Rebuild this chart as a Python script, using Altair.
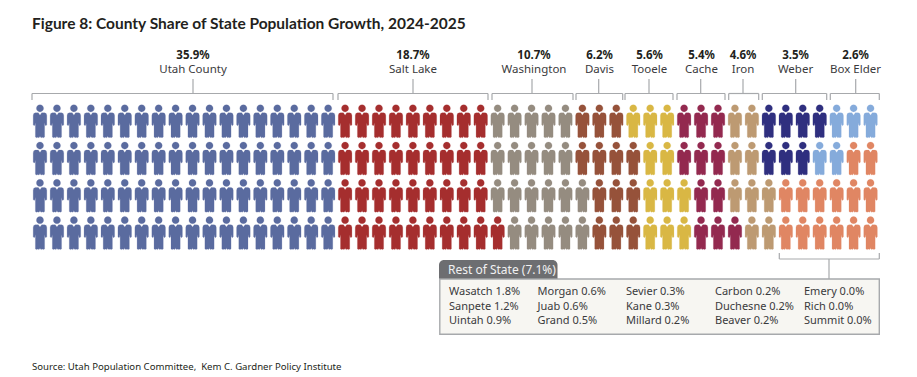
import altair as alt
import pandas as pd

# Column ranges (inclusive) held by each county in each of the four rows of 50 figures
counties = ["Utah County", "Salt Lake", "Washington", "Davis", "Tooele", "Cache", "Iron", "Weber", "Box Elder", "Rest of State"]
colors = ["#5a6b9f", "#a52e2e", "#958c80", "#96523a", "#d9b744", "#93294f", "#bd9a72", "#2f2f7f", "#85abdb", "#e08663"]
row0_counts = [18, 9, 5, 3, 3, 3, 2, 4, 3, 0]
row1_counts = [18, 9, 5, 4, 2, 3, 2, 3, 2, 2]
row2_counts = [18, 9, 6, 3, 3, 2, 3, 0, 0, 6]
row3_counts = [18, 10, 5, 3, 3, 3, 2, 0, 0, 6]
shares = ["35.9%", "18.7%", "10.7%", "6.2%", "5.6%", "5.4%", "4.6%", "3.5%", "2.6%"]
rest_columns = [
    ["Wasatch 1.8%", "Sanpete 1.2%", "Uintah 0.9%"],
    ["Morgan 0.6%", "Juab 0.6%", "Grand 0.5%"],
    ["Sevier 0.3%", "Kane 0.3%", "Millard 0.2%"],
    ["Carbon 0.2%", "Duchesne 0.2%", "Beaver 0.2%"],
    ["Emery 0.0%", "Rich 0.0%", "Summit 0.0%"],
]

FONT = "Noto Sans"
INK = "#231f20"
RULE = "#a7a9ac"
W, H = 901, 366
CX0, CDX = 40.0, 16.95
RY0, RDY = 121.2, 37.3


def X(px):
    return (px - CX0) / CDX


def Y(py):
    return (py - RY0) / RDY


xscale = alt.Scale(domain=[X(8), X(8 + W)], range=[0, W], nice=False, zero=False)
yscale = alt.Scale(domain=[Y(8), Y(8 + H)], range=[0, H], nice=False, zero=False)
xe = alt.X("x:Q", scale=xscale, axis=None)
ye = alt.Y("y:Q", scale=yscale, axis=None)

people = []
for r, counts in enumerate([row0_counts, row1_counts, row2_counts, row3_counts]):
    c = 0
    for name, n in zip(counties, counts):
        for _ in range(n):
            people.append({"x": c, "y": r, "county": name})
            c += 1
people = pd.DataFrame(people)

s = 16.5


def u(a, b):
    return f"{a / s:.4f},{b / s:.4f}"


PERSON = (
    f"M{u(-3.6, -12.9)}A{3.6 / s:.4f},{3.6 / s:.4f} 0 1 1 {u(3.6, -12.9)}"
    f"A{3.6 / s:.4f},{3.6 / s:.4f} 0 1 1 {u(-3.6, -12.9)}Z"
    f"M{u(-1.7, -8.4)}L{u(0, -6.0)}L{u(1.7, -8.4)}L{u(4.6, -8.4)}"
    f"Q{u(6.8, -8.2)} {u(6.8, -5.6)}L{u(6.8, 3.6)}L{u(5.9, 4.6)}L{u(5.1, 3.9)}L{u(4.9, 1.5)}L{u(4.6, 3.9)}"
    f"L{u(4.6, 15.8)}L{u(3.4, 16.5)}L{u(2.2, 16.0)}L{u(1.2, 16.5)}L{u(0.3, 15.8)}L{u(0, 14.5)}"
    f"L{u(-0.3, 15.8)}L{u(-1.2, 16.5)}L{u(-2.2, 16.0)}L{u(-3.4, 16.5)}L{u(-4.6, 15.8)}"
    f"L{u(-4.6, 3.9)}L{u(-4.9, 1.5)}L{u(-5.1, 3.9)}L{u(-5.9, 4.6)}L{u(-6.8, 3.6)}L{u(-6.8, -5.6)}"
    f"Q{u(-6.8, -8.2)} {u(-4.6, -8.4)}Z"
)

cscale = alt.Scale(domain=counties, range=colors)
figures = alt.Chart(people).mark_point(
    filled=True, shape=PERSON, size=(2 * s) ** 2, opacity=1, strokeWidth=0.8, strokeOpacity=0.25
).encode(
    x=xe, y=ye,
    color=alt.Color("county:N", scale=cscale, legend=None),
    stroke=alt.Stroke("county:N", scale=cscale, legend=None),
)

# bracket geometry, page pixels: left, right, stem
brackets = [(32, 333, 193), (338, 488, 413), (492, 573, 532), (576, 622.7, 598.7), (625, 673, 649),
            (677, 725, 700.7), (728.7, 758.7, 743), (762.3, 826.7, 795.7), (830.3, 879.3, 855.7)]
BY, BT, BS = 93.5, 100, 79
segs = []


def seg(a, b, c, d):
    segs.append({"x": X(a), "x2": X(c), "y": Y(b), "y2": Y(d)})


for l, r, m in brackets:
    seg(l, BT, l, BY)
    seg(l, BY, r, BY)
    seg(r, BY, r, BT)
    seg(m, BY, m, BS)
seg(779.3, 253, 779.3, 259)
seg(779.3, 259, 879.3, 259)
seg(879.3, 259, 879.3, 253)
seg(829, 259, 829, 279)
rules = alt.Chart(pd.DataFrame(segs)).mark_rule(color=RULE, strokeWidth=1.2).encode(
    x=xe, x2="x2:Q", y=ye, y2="y2:Q"
)

box = alt.Chart(pd.DataFrame([{"x": X(439.8), "x2": X(879.3), "y": Y(279), "y2": Y(334.3)}])).mark_rect(
    fill="#f7f6f2", stroke=RULE, strokeWidth=1.4
).encode(x=xe, x2="x2:Q", y=ye, y2="y2:Q")
tab = alt.Chart(pd.DataFrame([{"x": X(439), "x2": X(557.5), "y": Y(260), "y2": Y(278.5)}])).mark_bar(
    color="#6d6e71", cornerRadiusTopLeft=5, cornerRadiusTopRight=5
).encode(x=xe, x2="x2:Q", y=ye, y2="y2:Q")


def text_layer(rows, size, weight="normal", color=INK, align="center", font=FONT):
    df = pd.DataFrame([{"x": X(a), "y": Y(b), "t": t} for a, b, t in rows])
    return alt.Chart(df).mark_text(
        font=font, fontSize=size, fontWeight=weight, color=color, align=align, baseline="middle"
    ).encode(x=xe, y=ye, text="t:N")


label_x = [193, 413, 534, 599.5, 649.5, 701.5, 743, 795.5, 855.5]
label_y = [69.5, 69.5, 70, 70, 70, 70, 70, 70, 70]
share_y = [55.5, 55.5, 56, 56, 56, 56, 56, 56, 56]
share_rows = [(a, b, t) for a, b, t in zip(label_x, share_y, shares)]
name_rows = [(a, b, t) for a, b, t in zip(label_x, label_y, counties)]
rest_x = [449, 537.5, 626, 715, 804]
rest_y = [292, 306.5, 321]
rest_rows = [(rest_x[i], rest_y[j], t) for i, col in enumerate(rest_columns) for j, t in enumerate(col)]

chart = alt.layer(
    figures, rules, box, tab,
    text_layer(share_rows, 11.5, "bold"),
    text_layer(name_rows, 11.5, color="#3a3a3c"),
    text_layer(rest_rows, 11, color="#3a3a3c", align="left"),
    text_layer([(448, 270, "Rest of State (7.1%)")], 12, color="#f1f1f2", align="left"),
    text_layer([(32, 24, "Figure 8: County Share of State Population Growth, 2024-2025")], 15.5, "bold", align="left", font="Lato"),
    text_layer([(32, 367, "Source: Utah Population Committee,\u00a0 Kem C. Gardner Policy Institute")], 9.6, align="left"),
).properties(
    width=W, height=H, padding=0, autosize=alt.AutoSizeParams(type="none")
).configure_view(stroke=None)

chart.save("out.html", embed_options={"renderer": "svg", "actions": False})
